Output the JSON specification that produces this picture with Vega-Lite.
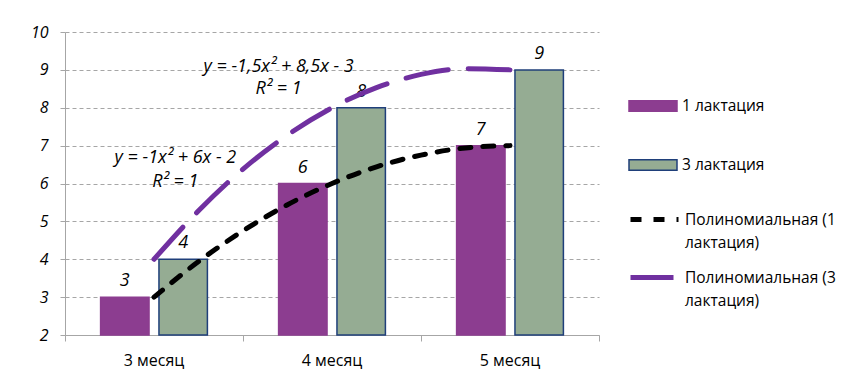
{
  "$schema": "https://vega.github.io/schema/vega-lite/v6.json",
  "width": 534,
  "height": 303,
  "autosize": "none",
  "padding": {"left": 65, "top": 32, "right": 248, "bottom": 55},
  "background": "white",
  "config": {
    "view": {"stroke": null},
    "font": "Open Sans",
    "style": {"guide-label": {"lineHeight": 23}},
    "axisY": {"title": null, "values": [2, 3, 4, 5, 6, 7, 8, 9, 10], "labelFontSize": 16, "labelFontStyle": "italic", "labelColor": "#000000", "labelPadding": 12, "tickSize": 5, "tickColor": "#A6A6A6", "domainColor": "#A6A6A6", "grid": true, "gridDash": [4, 3], "gridColor": "#A6A6A6"}
  },
  "datasets": {
    "bars": [
      {"month": "3 месяц", "series": "1 лактация", "value": 3},
      {"month": "3 месяц", "series": "3 лактация", "value": 4},
      {"month": "4 месяц", "series": "1 лактация", "value": 6},
      {"month": "4 месяц", "series": "3 лактация", "value": 8},
      {"month": "5 месяц", "series": "1 лактация", "value": 7},
      {"month": "5 месяц", "series": "3 лактация", "value": 9}
    ],
    "trends": [
      {"trend": "Полиномиальная (1 лактация)", "t": 1, "value": 3},
      {"trend": "Полиномиальная (1 лактация)", "t": 1.25, "value": 3.94},
      {"trend": "Полиномиальная (1 лактация)", "t": 1.5, "value": 4.75},
      {"trend": "Полиномиальная (1 лактация)", "t": 1.75, "value": 5.44},
      {"trend": "Полиномиальная (1 лактация)", "t": 2, "value": 6},
      {"trend": "Полиномиальная (1 лактация)", "t": 2.25, "value": 6.44},
      {"trend": "Полиномиальная (1 лактация)", "t": 2.5, "value": 6.75},
      {"trend": "Полиномиальная (1 лактация)", "t": 2.75, "value": 6.94},
      {"trend": "Полиномиальная (1 лактация)", "t": 3, "value": 7},
      {"trend": "Полиномиальная (3 лактация)", "t": 1, "value": 4},
      {"trend": "Полиномиальная (3 лактация)", "t": 1.25, "value": 5.28},
      {"trend": "Полиномиальная (3 лактация)", "t": 1.5, "value": 6.38},
      {"trend": "Полиномиальная (3 лактация)", "t": 1.75, "value": 7.28},
      {"trend": "Полиномиальная (3 лактация)", "t": 2, "value": 8},
      {"trend": "Полиномиальная (3 лактация)", "t": 2.25, "value": 8.53},
      {"trend": "Полиномиальная (3 лактация)", "t": 2.5, "value": 8.88},
      {"trend": "Полиномиальная (3 лактация)", "t": 2.75, "value": 9.03},
      {"trend": "Полиномиальная (3 лактация)", "t": 3, "value": 9}
    ],
    "eqs": [
      {"t": 1.7, "value": 9.07, "label": "y = -1,5x² + 8,5x - 3"},
      {"t": 1.7, "value": 8.49, "label": "R² = 1"},
      {"t": 1.12, "value": 6.67, "label": "y = -1x² + 6x - 2"},
      {"t": 1.12, "value": 6.04, "label": "R² = 1"}
    ]
  },
  "layer": [
    {
      "data": {"name": "bars"},
      "mark": {"type": "bar", "strokeWidth": 1.5},
      "encoding": {
        "x": {
          "field": "month", "type": "nominal",
          "scale": {"paddingInner": 0.4, "paddingOuter": 0.2},
          "axis": {"title": null, "ticks": false, "tickSize": 0, "domain": false, "labelAngle": 0, "labelFontSize": 16, "labelPadding": 17, "labelColor": "#000000"}
        },
        "xOffset": {"field": "series", "scale": {"paddingInner": 0.17, "paddingOuter": 0}},
        "y": {
          "field": "value", "type": "quantitative", "title": null,
          "scale": {"domain": [2, 10], "nice": false, "zero": false}
        },
        "y2": {"datum": 2},
        "fill": {
          "field": "series", "type": "nominal",
          "scale": {"range": ["#8C3D90", "#95AC93"]},
          "legend": {"title": null, "orient": "none", "legendX": 563, "legendY": 49, "symbolType": "M-1,-0.22H1V0.22H-1Z", "symbolSize": 2304, "symbolStrokeWidth": 1.5, "labelFontSize": 15.5, "labelColor": "#000000", "rowPadding": 25, "labelOffset": 4}
        },
        "stroke": {
          "field": "series", "type": "nominal",
          "scale": {"range": ["#8C3D90", "#1F3F7A"]},
          "legend": {"title": null, "orient": "none", "legendX": 563, "legendY": 49, "symbolType": "M-1,-0.22H1V0.22H-1Z", "symbolSize": 2304, "symbolStrokeWidth": 1.5, "labelFontSize": 15.5, "labelColor": "#000000", "rowPadding": 25, "labelOffset": 4}
        }
      }
    },
    {
      "data": {"name": "bars"},
      "mark": {"type": "text", "fontStyle": "italic", "fontSize": 18, "baseline": "bottom", "dy": -7, "color": "#000000"},
      "encoding": {
        "x": {"field": "month", "type": "nominal", "scale": {"paddingInner": 0.4, "paddingOuter": 0.2}, "axis": null},
        "xOffset": {"field": "series", "scale": {"paddingInner": 0.17, "paddingOuter": 0}},
        "y": {"field": "value", "type": "quantitative", "title": null},
        "text": {"field": "value", "type": "quantitative"}
      }
    },
    {
      "data": {"name": "trends"},
      "mark": {"type": "line", "strokeWidth": 5, "strokeCap": "round", "interpolate": "monotone"},
      "encoding": {
        "x": {
          "field": "t", "type": "quantitative",
          "scale": {"domain": [0.5, 3.5], "nice": false, "zero": false},
          "axis": {"orient": "bottom", "title": null, "values": [0.5, 1.5, 2.5, 3.5], "labels": false, "grid": false, "tickSize": 6, "tickColor": "#A6A6A6", "domainColor": "#A6A6A6"}
        },
        "y": {"field": "value", "type": "quantitative", "title": null},
        "color": {
          "field": "trend", "type": "nominal",
          "scale": {"range": ["#000000", "#7030A0"]},
          "legend": {"title": null, "orient": "none", "legendX": 563, "legendY": 161, "symbolType": "stroke", "symbolSize": 2304, "symbolStrokeWidth": 5, "labelFontSize": 15.5, "labelColor": "#000000", "rowPadding": 0, "labelOffset": 4, "labelLimit": 300,
            "labelExpr": "indexof(datum.label, 'Полиномиальная') == 0 ? [slice(datum.label, 0, 17), slice(datum.label, 18)] : datum.label"}
        },
        "strokeDash": {
          "field": "trend", "type": "nominal",
          "scale": {"range": [[11, 12], [43, 20]]},
          "legend": {"title": null, "orient": "none", "legendX": 563, "legendY": 161, "symbolType": "stroke", "symbolSize": 2304, "symbolStrokeWidth": 5, "labelFontSize": 15.5, "labelColor": "#000000", "rowPadding": 0, "labelOffset": 4, "labelLimit": 300,
            "labelExpr": "indexof(datum.label, 'Полиномиальная') == 0 ? [slice(datum.label, 0, 17), slice(datum.label, 18)] : datum.label"}
        }
      }
    },
    {
      "data": {"name": "eqs"},
      "mark": {"type": "text", "fontStyle": "italic", "fontSize": 18, "color": "#000000", "align": "center", "baseline": "middle"},
      "encoding": {
        "x": {"field": "t", "type": "quantitative", "scale": {"domain": [0.5, 3.5], "nice": false, "zero": false}, "axis": null},
        "y": {"field": "value", "type": "quantitative", "title": null},
        "text": {"field": "label", "type": "nominal"}
      }
    }
  ],
  "resolve": {"scale": {"x": "independent"}, "axis": {"x": "independent"}}
}
